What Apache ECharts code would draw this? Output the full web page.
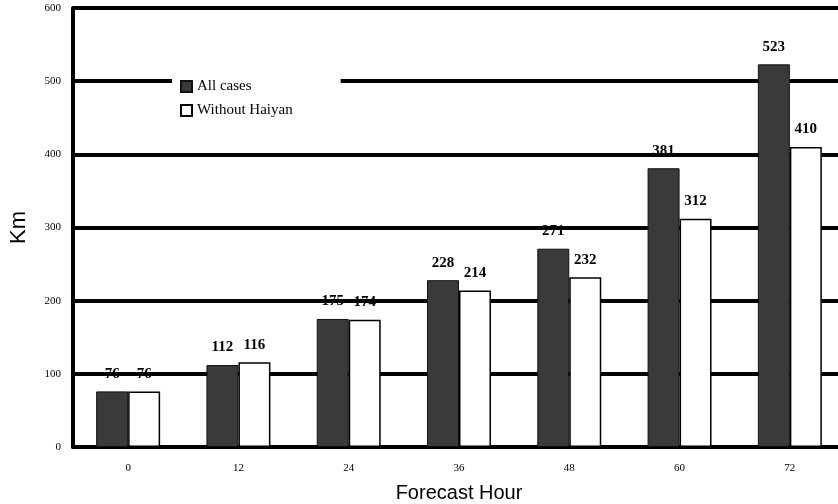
<!DOCTYPE html>
<html>
<head>
<meta charset="utf-8">
<script src="https://cdn.jsdelivr.net/npm/echarts@6/dist/echarts.min.js"></script>
<style>
  html, body { margin: 0; padding: 0; background: #fff; }
  #chart { width: 838px; height: 504px; }
</style>
</head>
<body>
<div id="chart"></div>
<script>
var hours = ['0', '12', '24', '36', '48', '60', '72'];
var allCases = [76, 112, 175, 228, 271, 381, 523];
var withoutHaiyan = [76, 116, 174, 214, 232, 312, 410];

var chart = echarts.init(document.getElementById('chart'));
var serif = '"Liberation Serif", "DejaVu Serif", serif';

// 数据标签样式
var barLabel = {
    show: true,
    position: 'top',
    distance: 10,
    fontFamily: serif,
    fontWeight: 'bold',
    fontSize: 15,
    color: '#000'
};

var option = {
    backgroundColor: '#fff',
    animation: false,
    grid: {
        left: 73,
        right: -7,
        top: 8,
        bottom: 57,
        outerBoundsMode: 'none'
    },
    legend: {
        orient: 'vertical',
        left: 172,
        top: 76,
        padding: [3, 48, 3, 8],
        itemGap: 9,
        itemWidth: 11,
        itemHeight: 11,
        backgroundColor: '#fff',
        textStyle: {
            fontFamily: serif,
            fontSize: 15,
            color: '#000'
        },
        data: [
            {name: 'All cases', icon: 'rect'},
            {name: 'Without Haiyan', icon: 'rect'}
        ]
    },
    xAxis: {
        type: 'category',
        data: hours,
        name: 'Forecast Hour',
        nameLocation: 'middle',
        nameGap: 36,
        nameTextStyle: {
            fontFamily: '"Liberation Sans", Arial, sans-serif',
            fontSize: 20,
            color: '#000'
        },
        axisLine: {lineStyle: {color: '#000', width: 4}},
        axisTick: {show: false},
        axisLabel: {
            margin: 16,
            fontFamily: serif,
            fontSize: 11,
            color: '#000'
        }
    },
    yAxis: {
        type: 'value',
        min: 0,
        max: 600,
        interval: 100,
        name: 'Km',
        nameLocation: 'middle',
        nameGap: 43,
        nameTextStyle: {
            fontFamily: '"Liberation Sans", Arial, sans-serif',
            fontSize: 22,
            color: '#000'
        },
        axisLine: {show: true, lineStyle: {color: '#000', width: 4}},
        axisTick: {show: false},
        axisLabel: {
            margin: 12,
            fontFamily: serif,
            fontSize: 11,
            color: '#000'
        },
        splitLine: {lineStyle: {color: '#000', width: 4}}
    },
    series: [
        {
            name: 'All cases',
            type: 'bar',
            data: allCases,
            barGap: '0%',
            barCategoryGap: '42%',
            itemStyle: {color: '#3a3a3a', borderColor: '#111', borderWidth: 1},
            label: barLabel
        },
        {
            name: 'Without Haiyan',
            type: 'bar',
            data: withoutHaiyan,
            itemStyle: {color: '#fff', borderColor: '#000', borderWidth: 1.5},
            label: barLabel
        }
    ]
};
chart.setOption(option);
</script>
</body>
</html>
